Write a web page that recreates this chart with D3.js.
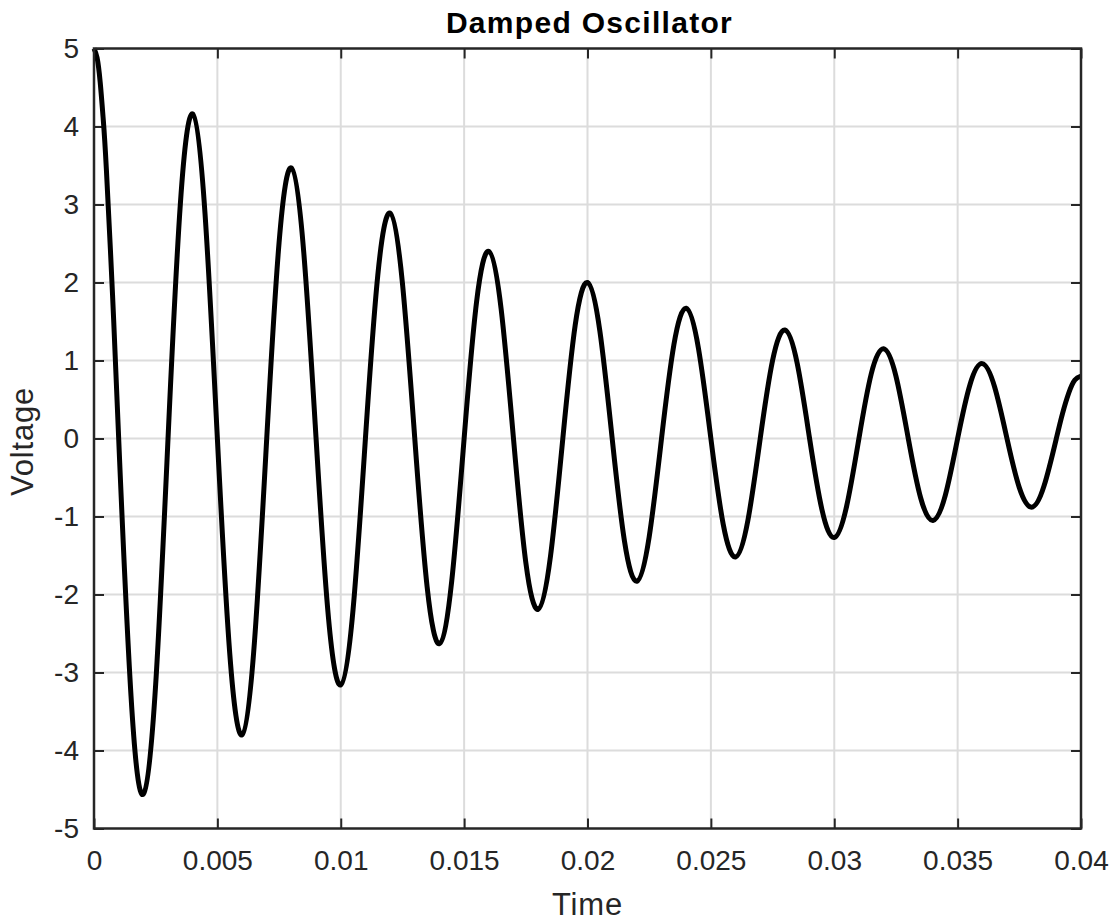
<!DOCTYPE html>
<html>
<head>
<meta charset="utf-8">
<script src="https://cdn.jsdelivr.net/npm/d3@7"></script>
<style>
  html, body { margin: 0; padding: 0; background: #fff; }
  svg { display: block; font-family: "Liberation Sans", Arial, Helvetica, sans-serif; }
</style>
</head>
<body>
<svg id="chart" width="1113" height="923"></svg>
<script>
// Time samples (s): denser near both ends, every 0.0005 s in between
const timeValues = [0, 0.000125, 0.00025, 0.000375, 0.0005, 0.00075]
  .concat(d3.range(2, 79).map(k => +(k * 0.0005).toFixed(4)))
  .concat([0.03925, 0.0395, 0.03975, 0.04]);
// Voltage readings at those times
const voltageValues = [
  5.00, 4.88, 4.57, 4.09, 3.46, 1.85,
  0, -3.30, -4.56, -3.15, 0, 3.01,
  4.16, 2.88, 0, -2.75, -3.80, -2.62, 0, 2.51,
  3.47, 2.39, 0, -2.29, -3.16, -2.19, 0, 2.09,
  2.89, 1.99, 0, -1.90, -2.63, -1.82, 0, 1.74,
  2.40, 1.66, 0, -1.59, -2.19, -1.51, 0, 1.45,
  2.00, 1.38, 0, -1.32, -1.83, -1.26, 0, 1.20,
  1.67, 1.15, 0, -1.10, -1.52, -1.05, 0, 1.00,
  1.39, 0.96, 0, -0.91, -1.27, -0.87, 0, 0.83,
  1.15, 0.80, 0, -0.76, -1.05, -0.73, 0, 0.69,
  0.96, 0.66, 0, -0.63, -0.88, -0.61, 0,
  0.32, 0.58, 0.75, 0.80
];
const xTicks = [0, 0.005, 0.01, 0.015, 0.02, 0.025, 0.03, 0.035, 0.04];
const xTickLabels = ["0", "0.005", "0.01", "0.015", "0.02", "0.025", "0.03", "0.035", "0.04"];
const yTicks = [-5, -4, -3, -2, -1, 0, 1, 2, 3, 4, 5];
const yTickLabels = ["-5", "-4", "-3", "-2", "-1", "0", "1", "2", "3", "4", "5"];
const titleText = "Damped Oscillator";
const xLabelText = "Time";
const yLabelText = "Voltage";

const svg = d3.select("#chart");
const plotL = 94, plotR = 1081, plotT = 48.5, plotB = 828.5;
const x = d3.scaleLinear().domain([0, 0.04]).range([plotL, plotR]);
const y = d3.scaleLinear().domain([-5, 5]).range([plotB, plotT]);
const axisColor = "#262626";
const gridColor = "#dcdcdc";

// grid
const grid = svg.append("g");
grid.selectAll("line.gx").data(xTicks.slice(1, -1)).join("line")
  .attr("x1", d => x(d)).attr("x2", d => x(d)).attr("y1", plotT).attr("y2", plotB)
  .attr("stroke", gridColor).attr("stroke-width", 2);
grid.selectAll("line.gy").data(yTicks.slice(1, -1)).join("line")
  .attr("y1", d => y(d)).attr("y2", d => y(d)).attr("x1", plotL).attr("x2", plotR)
  .attr("stroke", gridColor).attr("stroke-width", 2);

// axes with inward ticks (all four sides)
const tickLen = 10;
const fmtX = d => xTickLabels[xTicks.indexOf(d)];
const fmtY = d => yTickLabels[yTicks.indexOf(d)];

function styleAxis(g) {
  g.attr("font-family", null);
  g.select(".domain").remove();
  g.selectAll(".tick line").attr("stroke", axisColor).attr("stroke-width", 2);
  g.selectAll(".tick text").attr("fill", axisColor).attr("font-size", 28);
}

const gBottom = svg.append("g").attr("transform", `translate(0,${plotB})`)
  .call(d3.axisBottom(x).tickValues(xTicks).tickFormat(fmtX).tickSizeInner(-tickLen).tickSizeOuter(0).tickPadding(22));
styleAxis(gBottom);
gBottom.selectAll(".tick text").attr("dy", "0.71em");

const gTop = svg.append("g").attr("transform", `translate(0,${plotT})`)
  .call(d3.axisTop(x).tickValues(xTicks).tickSizeInner(-tickLen).tickSizeOuter(0).tickFormat(""));
styleAxis(gTop);

const gLeft = svg.append("g").attr("transform", `translate(${plotL},0)`)
  .call(d3.axisLeft(y).tickValues(yTicks).tickFormat(fmtY).tickSizeInner(-tickLen).tickSizeOuter(0).tickPadding(15));
styleAxis(gLeft);

const gRight = svg.append("g").attr("transform", `translate(${plotR},0)`)
  .call(d3.axisRight(y).tickValues(yTicks).tickSizeInner(-tickLen).tickSizeOuter(0).tickFormat(""));
styleAxis(gRight);

// data line
const line = d3.line()
  .x((d, i) => x(timeValues[i]))
  .y(d => y(d))
  .curve(d3.curveNatural);

svg.append("path")
  .datum(voltageValues)
  .attr("d", line)
  .attr("fill", "none")
  .attr("stroke", "#000")
  .attr("stroke-width", 5)
  .attr("stroke-linejoin", "round");

// box
svg.append("rect")
  .attr("x", plotL).attr("y", plotT).attr("width", plotR - plotL).attr("height", plotB - plotT)
  .attr("fill", "none").attr("stroke", axisColor).attr("stroke-width", 2.5);

// title and labels
svg.append("text")
  .attr("x", (plotL + plotR) / 2 + 2).attr("y", 33)
  .attr("text-anchor", "middle").attr("font-weight", "bold").attr("font-size", 30)
  .attr("letter-spacing", 1.3)
  .attr("fill", "#000").text(titleText);

svg.append("text")
  .attr("x", (plotL + plotR) / 2).attr("y", 915)
  .attr("text-anchor", "middle").attr("font-size", 31)
  .attr("letter-spacing", 0.8)
  .attr("fill", axisColor).text(xLabelText);

svg.append("text")
  .attr("transform", `translate(33,${(plotT + plotB) / 2 + 3}) rotate(-90)`)
  .attr("text-anchor", "middle").attr("font-size", 31)
  .attr("letter-spacing", 0.8)
  .attr("fill", axisColor).text(yLabelText);
</script>
</body>
</html>
